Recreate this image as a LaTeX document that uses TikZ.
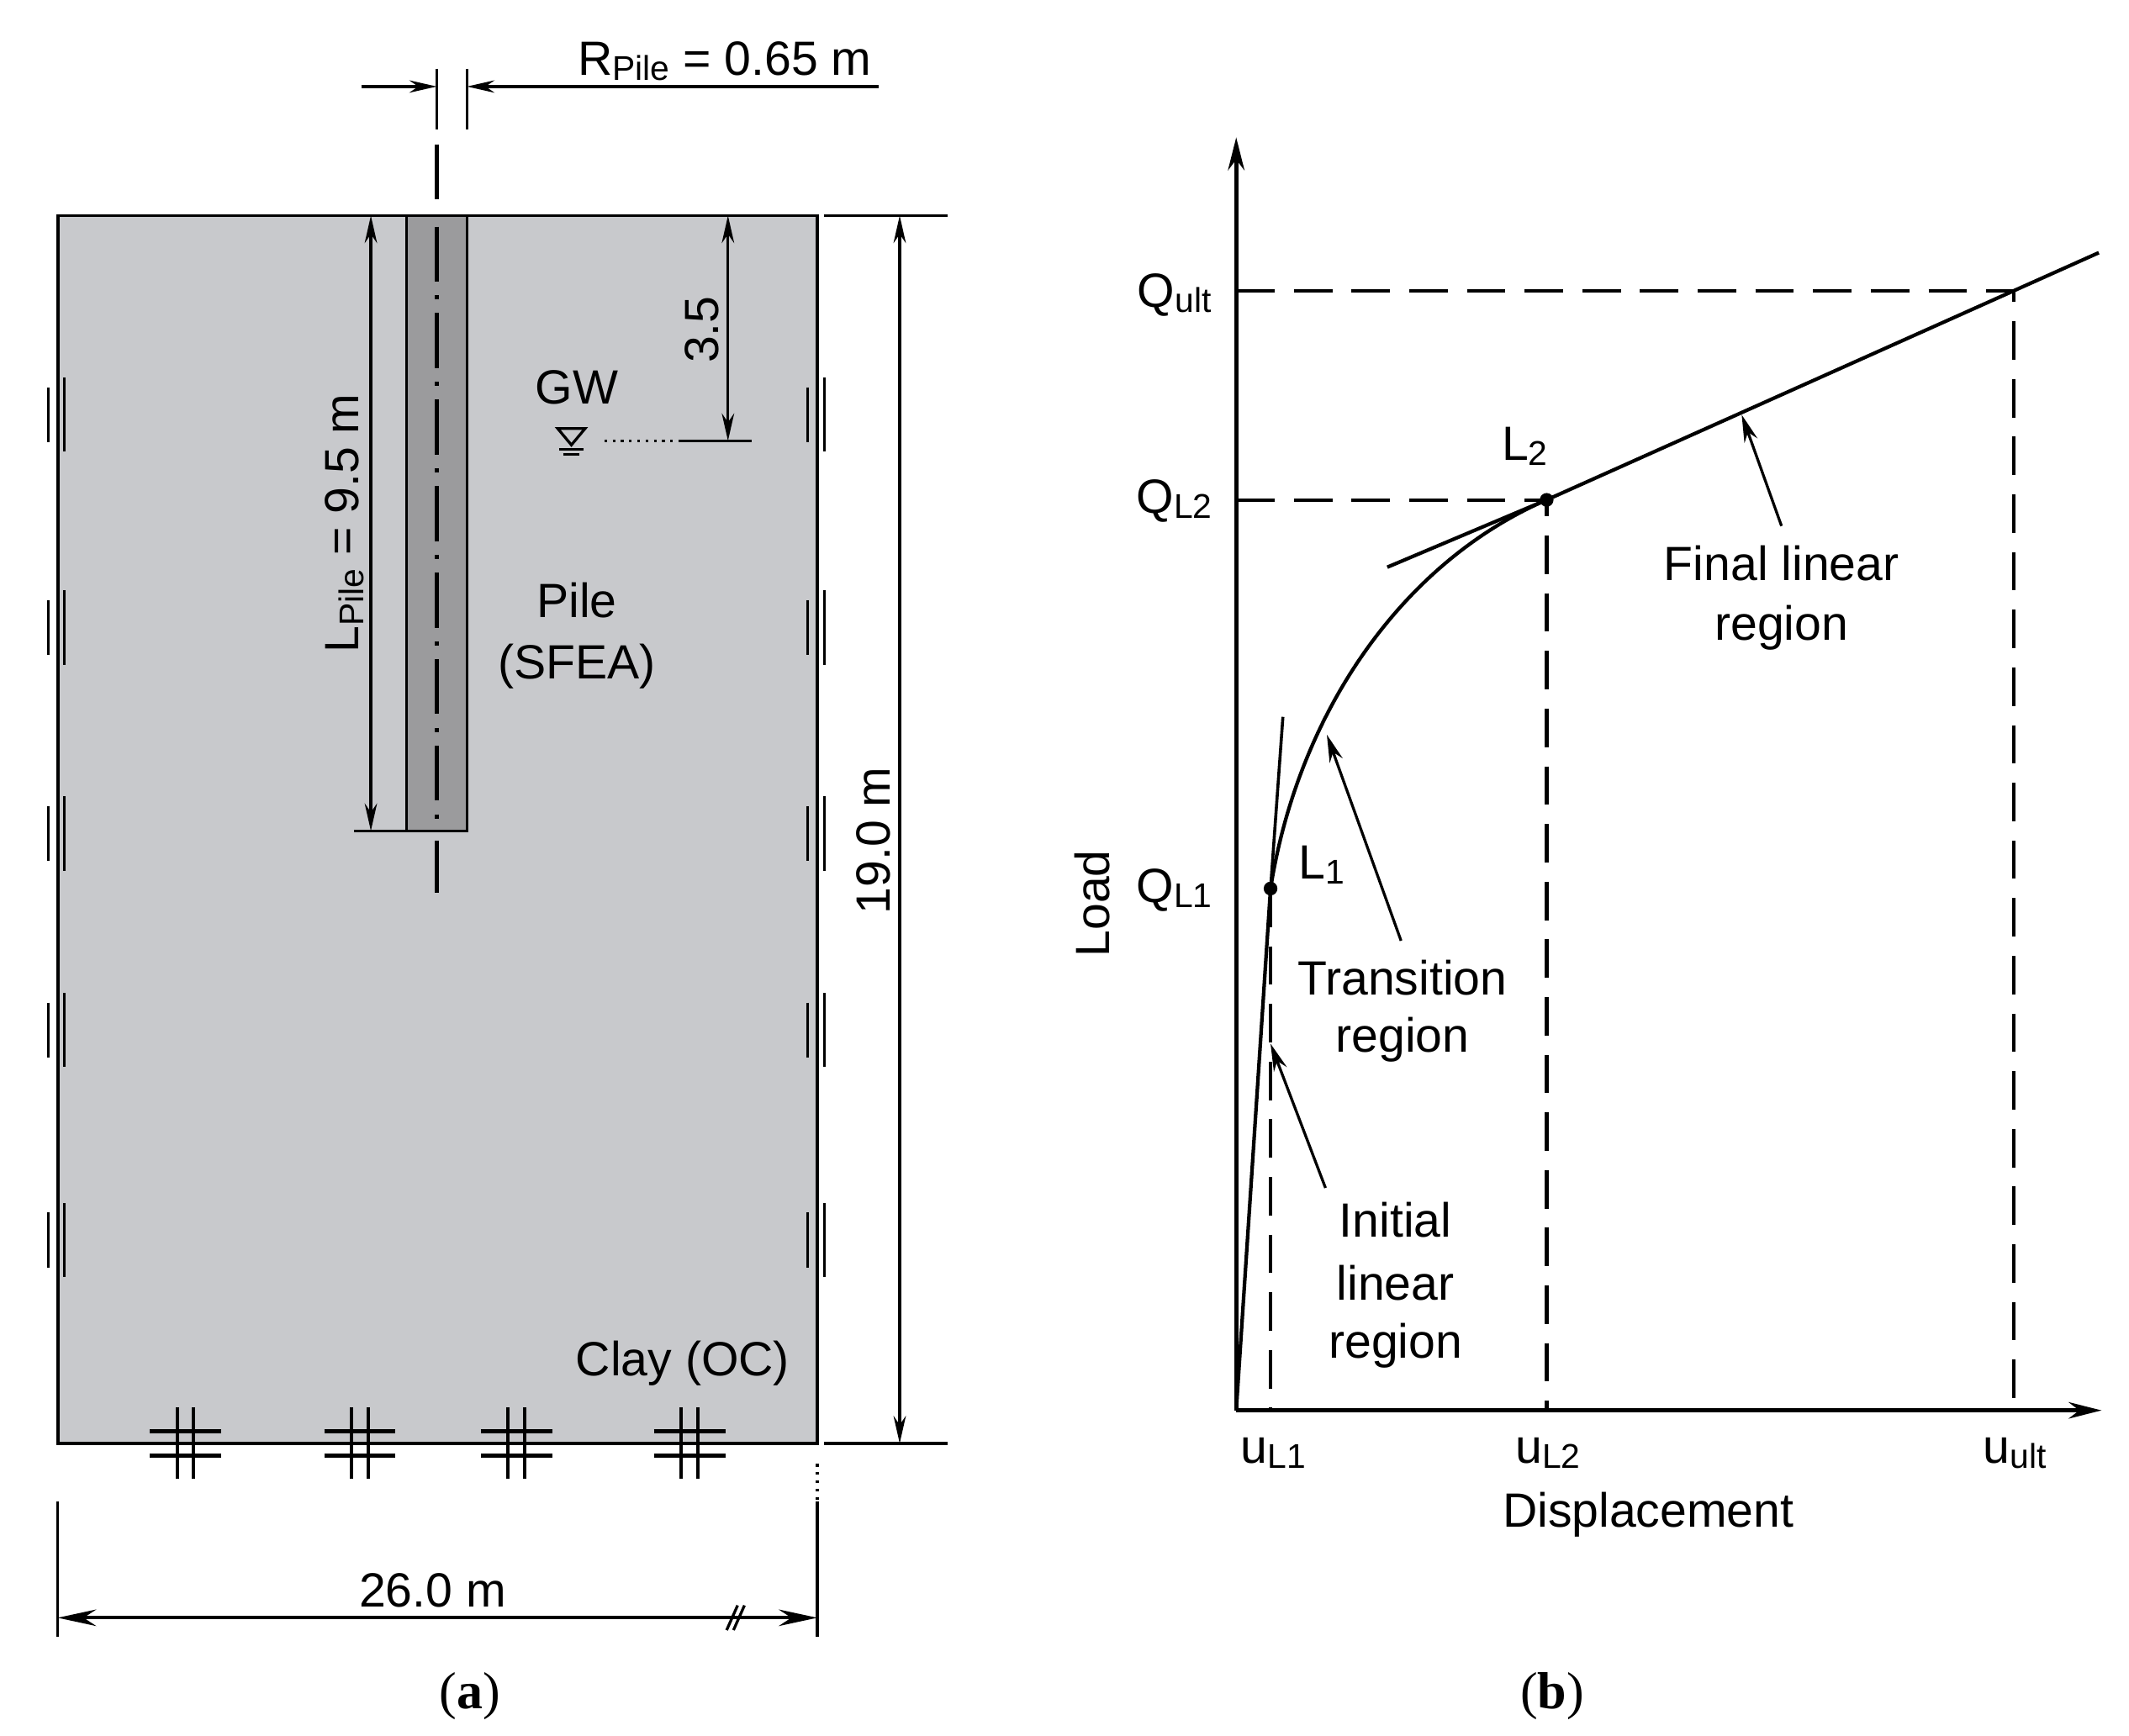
\documentclass[tikz,border=0pt]{standalone}
\usepackage{fontspec}
\setmainfont{Liberation Sans}
\newfontfamily\capfont{Liberation Serif}
\usetikzlibrary{arrows.meta}
\definecolor{soil}{RGB}{200,201,204}
\definecolor{pilec}{RGB}{155,155,157}
\tikzset{
 lbl/.style={font=\fontsize{17.5}{20}\selectfont, inner sep=0pt},
 dimarr/.style={line width=1pt, {Stealth[length=10pt,width=4.5pt]}-{Stealth[length=10pt,width=4.5pt]}},
 thin line/.style={line width=1pt},
 dsh/.style={line width=1.3pt, dash pattern=on 14pt off 7pt},
 ax/.style={line width=1.4pt, -{Stealth[length=12pt,width=6pt]}},
 pt/.style={circle, fill=black, inner sep=0pt, minimum size=5pt},
 lead/.style={line width=1pt, -{Stealth[length=10pt,width=5pt]}},
 capl/.style={font=\capfont\fontsize{19}{22}\selectfont}
}
\newcommand{\sbx}[1]{\raisebox{-0.2ex}{\fontsize{12.5}{14}\selectfont #1}}
\begin{document}
\begin{tikzpicture}[x=0.5pt,y=-0.5pt]
\useasboundingbox (0,0) rectangle (1550,1264);
% ---------- panel (a) ----------
\draw[line width=1.2pt, fill=soil] (42,157) rectangle (595,1051);
\draw[thin line, fill=pilec] (296,157) rectangle (340,605);
\draw[line width=1.4pt, dash pattern=on 20pt off 5pt on 1.5pt off 5pt] (318,165) -- (318,603);
\draw[line width=1.4pt, dash pattern=on 20pt off 10pt] (318,105) -- (318,148);
\draw[line width=1.4pt, dash pattern=on 20pt off 10pt] (318,612) -- (318,650);
% R dimension
\coordinate (ra) at (263,63); \coordinate (rb) at (318,63);
\coordinate (rc) at (340,63); \coordinate (rd) at (640,63);
\draw[thin line] (318,50) -- (318,94);
\draw[thin line] (340,50) -- (340,94);
\draw[thin line, -{Stealth[length=10pt,width=4.5pt]}] (ra) -- (rb);
\draw[thin line, -{Stealth[length=10pt,width=4.5pt]}] (rd) -- (rc);
\node[lbl, anchor=base east] at (635,55) {R\sbx{Pile} = 0.65 m};
% L pile
\coordinate (lt) at (270,157); \coordinate (lb) at (270,605);
\draw[dimarr] (lt) -- (lb);
\draw[thin line] (258,605) -- (296,605);
\node[lbl, rotate=90] at (251,381) {L\sbx{Pile} = 9.5 m};
% 3.5
\coordinate (gt) at (530,157); \coordinate (gb) at (530,321);
\draw[dimarr] (gt) -- (gb);
\draw[thin line] (495,321) -- (547,321);
\draw[thin line, dotted] (440,321) -- (495,321);
\node[lbl, rotate=90] at (511,240) {3.5};
\node[lbl] at (420,282) {GW};
\draw[line width=1pt] (406,312) -- (426,312) -- (416,324) -- cycle;
\draw[line width=1pt] (407,327) -- (425,327);
\draw[line width=1pt] (410,331) -- (422,331);
\node[lbl] at (420,437) {Pile};
\node[lbl] at (420,485) {(SFEA)};
\node[lbl] at (497,993) {Clay (OC)};
% 19.0 m
\draw[thin line] (600,157) -- (690,157);
\draw[thin line] (600,1051) -- (690,1051);
\coordinate (ht) at (655,157); \coordinate (hb) at (655,1051);
\draw[dimarr] (ht) -- (hb);
\node[lbl, rotate=90] at (636,612) {19.0 m};
% side symbols
\foreach \c in {302,457,607,750,903}{
  \draw[thin line] (35,\c-20) -- (35,\c+20);
  \draw[thin line] (47,\c-27) -- (47,\c+27);
  \draw[thin line] (588,\c-20) -- (588,\c+20);
  \draw[thin line] (600,\c-27) -- (600,\c+27);
}
\foreach \c in {135,262,376,502}{
  \draw[line width=1.2pt] (\c-6,1025) -- (\c-6,1077);
  \draw[line width=1.2pt] (\c+6,1025) -- (\c+6,1077);
  \draw[line width=1.6pt] (\c-26,1042) -- (\c+26,1042);
  \draw[line width=1.6pt] (\c-26,1060) -- (\c+26,1060);
}
\draw[thin line, dotted] (595,1066) -- (595,1100);
% 26.0 m
\draw[thin line] (42,1093) -- (42,1192);
\draw[thin line] (595,1093) -- (595,1192);
\coordinate (wl) at (42,1178); \coordinate (wr) at (595,1178);
\draw[line width=1.2pt, {Stealth[length=14pt,width=6pt]}-{Stealth[length=14pt,width=6pt]}] (wl) -- (wr);
\draw[thin line] (529,1187) -- (537,1169);
\draw[thin line] (534,1187) -- (542,1169);
\node[lbl] at (315,1158) {26.0 m};
\node[capl] at (342,1235) {(\textbf{a})};
% ---------- panel (b) ----------
\coordinate (o) at (900,1027);
\coordinate (ytop) at (900,100);
\coordinate (xend) at (1530,1027);
\draw[ax] (o) -- (ytop);
\draw[ax] (o) -- (xend);
\node[pt] (l1) at (925,647) {};
\node[pt] (l2) at (1126,364) {};
\coordinate (ult) at (1466,212);
\draw[dsh] (900,212) -- (ult) -- (1466,1027);
\draw[dsh] (900,364) -- (l2.center) -- (1126,1027);
\draw[dsh] (l1.center) -- (925,1027);
% curve
\draw[line width=1.3pt] (o) -- (l1.center);
\draw[line width=1.1pt] (l1.center) -- (934,522);
\draw[line width=1.3pt] (l1.center) .. controls (945,520) and (1020,410) .. (l2.center);
\draw[line width=1.3pt] (l2.center) -- (1528,184);
\draw[line width=1.3pt] (1010,413) -- (l2.center);
% leaders
\draw[lead] (1297,383) -- (1268,302);
\draw[lead] (1020,685) -- (966,535);
\draw[lead] (965,865) -- (925,760);
% labels
\node[lbl] at (855,215) {Q\sbx{ult}};
\node[lbl] at (855,365) {Q\sbx{L2}};
\node[lbl] at (855,648) {Q\sbx{L1}};
\node[lbl] at (1110,325) {L\sbx{2}};
\node[lbl] at (962,630) {L\sbx{1}};
\node[lbl] at (1297,410) {Final linear};
\node[lbl] at (1297,457) {region};
\node[lbl] at (1021,712) {Transition};
\node[lbl] at (1021,757) {region};
\node[lbl] at (1016,888) {Initial};
\node[lbl] at (1016,934) {linear};
\node[lbl] at (1016,980) {region};
\node[lbl, rotate=90] at (795,658) {Load};
\node[lbl] at (1200,1103) {Displacement};
\node[lbl] at (927,1058) {u\sbx{L1}};
\node[lbl] at (1127,1058) {u\sbx{L2}};
\node[lbl] at (1467,1058) {u\sbx{ult}};
\node[capl] at (1130,1235) {(\textbf{b})};
\end{tikzpicture}
\end{document}
